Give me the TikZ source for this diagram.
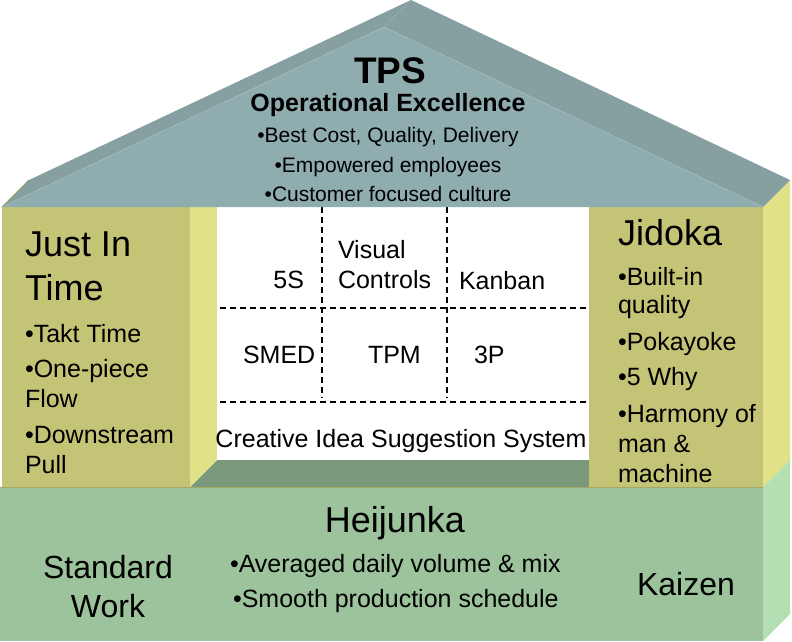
\documentclass[tikz,border=0pt]{standalone}
\usepackage{fontspec}
\setmainfont{Liberation Sans}
\newcommand\fsz[1]{\fontsize{#1}{#1}\selectfont}
\definecolor{roofF}{HTML}{8FADAF}
\definecolor{roofT}{HTML}{86A0A2}
\definecolor{roofL}{HTML}{9DBABB}
\definecolor{pilF}{HTML}{C4C476}
\definecolor{pilS}{HTML}{E1E187}
\definecolor{baseF}{HTML}{9CC39C}
\definecolor{baseS}{HTML}{B3DFB3}
\definecolor{floorC}{HTML}{7A987A}
\begin{document}
\begin{tikzpicture}[x=1pt,y=-1pt,
  t/.style={inner sep=0pt,outer sep=0pt,font=\fsz{25}},
  head/.style={inner sep=0pt,outer sep=0pt,font=\fsz{36}},
  small/.style={inner sep=0pt,outer sep=0pt,font=\fsz{21}},
  grid/.style={line width=1.3pt,dash pattern=on 6pt off 4pt}]
\useasboundingbox (0,0) rectangle (792,641);
% base
\fill[baseF] (0,487) -- (763,487) -- (763,641) -- (0,641) -- cycle;
\fill[baseS] (763,487) -- (790,460) -- (790,614) -- (763,641) -- cycle;
% floor
\fill[floorC] (190,487) -- (217,460) -- (589,460) -- (589,487) -- cycle;
% pillars
\fill[pilF] (2,207) -- (190,207) -- (190,487) -- (2,487) -- cycle;
\fill[pilS] (190,207) -- (217,180) -- (217,460) -- (190,487) -- cycle;
\fill[pilF] (589,207) -- (763,207) -- (763,487) -- (589,487) -- cycle;
\fill[pilS] (763,207) -- (790,180) -- (790,460) -- (763,487) -- cycle;
\draw[pilF!85!black,line width=0.8pt] (0,487.5) -- (763,487.5);
% white interior
\fill[white] (217,207) rectangle (589,460);
% dashed grid
\draw[grid] (322,207) -- (322,398);
\draw[grid] (447,207) -- (447,398);
\draw[grid] (220,308) -- (588,308);
\draw[grid] (220,402) -- (588,402);
% roof
\fill[roofT] (2,207) -- (29,180) -- (411,0) -- (384,27) -- cycle;
\fill[roofT] (384,27) -- (411,0) -- (790,180) -- (763,207) -- cycle;
\fill[roofF] (2,207) -- (384,27) -- (763,207) -- cycle;
\draw[roofL,line width=0.8pt] (2,207) -- (384,27) -- (763,207);
\draw[pilF!80!black,line width=1pt] (2,207) -- (29,180);
% roof text
\node[inner sep=0pt,font=\fsz{37}\bfseries,anchor=base] (tps) at (390,83) {TPS};
\node[inner sep=0pt,font=\fsz{25}\bfseries,anchor=base] (opex) at (388,111) {Operational Excellence};
\node[small,anchor=base] (r1) at (388,142) {•Best Cost, Quality, Delivery};
\node[small,anchor=base] (r2) at (388,172) {•Empowered employees};
\node[small,anchor=base] (r3) at (388,201) {•Customer focused culture};
% left pillar text
\node[head,anchor=base west] (jit1) at (25,256) {Just In};
\node[head,anchor=base west] (jit2) at (25,300) {Time};
\node[t,anchor=base west] (l1) at (25,342) {•Takt Time};
\node[t,anchor=base west] (l2) at (25,377) {•One-piece};
\node[t,anchor=base west] (l3) at (25,407) {Flow};
\node[t,anchor=base west] (l4) at (25,443) {•Downstream};
\node[t,anchor=base west] (l5) at (25,473) {Pull};
% right pillar text
\node[head,anchor=base west] (jid) at (618,245) {Jidoka};
\node[t,anchor=base west] (j1) at (618,285) {•Built-in};
\node[t,anchor=base west] (j2) at (618,313) {quality};
\node[t,anchor=base west] (j3) at (618,350) {•Pokayoke};
\node[t,anchor=base west] (j4) at (618,385) {•5 Why};
\node[t,anchor=base west] (j5) at (618,422) {•Harmony of};
\node[t,anchor=base west] (j6) at (618,452) {man \&};
\node[t,anchor=base west] (j7) at (618,482) {machine};
% interior text
\node[t,anchor=base east] (fives) at (304,288) {5S};
\node[t,anchor=base west] (vis1) at (338,258) {Visual};
\node[t,anchor=base west] (vis2) at (338,288) {Controls};
\node[t,anchor=base west] (kan) at (459,289) {Kanban};
\node[t,anchor=base west] (smed) at (243,363) {SMED};
\node[t,anchor=base west] (tpm) at (368,363) {TPM};
\node[t,anchor=base west] (threep) at (474,363) {3P};
\node[t,anchor=base] (cis) at (401,447) {Creative Idea Suggestion System};
% base text
\node[head,anchor=base] (hei) at (395,532) {Heijunka};
\node[inner sep=0pt,font=\fsz{32},anchor=base] (sw1) at (108,578) {Standard};
\node[inner sep=0pt,font=\fsz{32},anchor=base] (sw2) at (108,617) {Work};
\node[inner sep=0pt,font=\fsz{32},anchor=base] (kai) at (686,595) {Kaizen};
\node[t,anchor=base west] (b1) at (230,572) {•Averaged daily volume \& mix};
\node[t,anchor=base west] (b2) at (233,607) {•Smooth production schedule};
\end{tikzpicture}
\end{document}
